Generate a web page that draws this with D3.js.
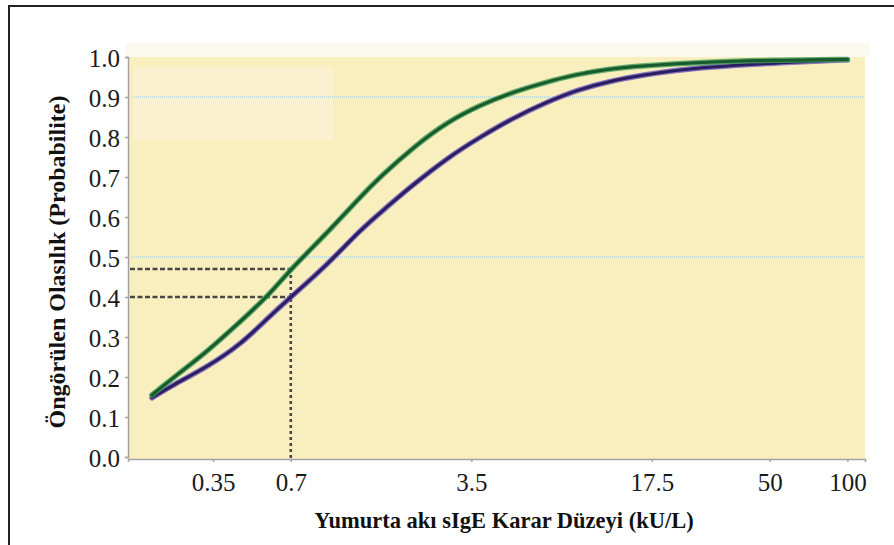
<!DOCTYPE html>
<html>
<head>
<meta charset="utf-8">
<script src="https://cdn.jsdelivr.net/npm/d3@7"></script>
<style>
  body { margin: 0; background: #fff; }
  svg { display: block; }
</style>
</head>
<body>
<div id="chart"></div>
<script>
// sIgE level (kU/L) and predicted probability
const greenX = [0.203, 0.245, 0.332, 0.445, 0.567, 0.7, 0.968, 1.3, 1.55, 2.09, 2.83, 3.79, 5.09, 6.9, 8.7, 11.8, 15.8, 28.8, 51.9, 100];
const greenY = [0.155, 0.198, 0.263, 0.338, 0.40, 0.47, 0.56, 0.65, 0.70, 0.775, 0.838, 0.88, 0.913, 0.938, 0.955, 0.97, 0.978, 0.988, 0.992, 0.994];
const purpleX = [0.203, 0.245, 0.332, 0.445, 0.572, 0.7, 0.968, 1.3, 1.65, 2.03, 2.83, 3.79, 5.09, 6.9, 9.0, 12.1, 16.2, 21.2, 28.8, 51.9, 100];
const purpleY = [0.148, 0.18, 0.225, 0.28, 0.348, 0.40, 0.48, 0.568, 0.625, 0.675, 0.748, 0.80, 0.848, 0.888, 0.918, 0.94, 0.955, 0.966, 0.975, 0.985, 0.993];

const xTicks = [0.35, 0.7, 3.5, 17.5, 50, 100];
const xTickLabels = ["0.35", "0.7", "3.5", "17.5", "50", "100"];
const yTicks = [0, 0.1, 0.2, 0.3, 0.4, 0.5, 0.6, 0.7, 0.8, 0.9, 1.0];
const gridY = [0.9, 0.5];
const cutX = 0.7;
const cutY = [0.47, 0.40];

const width = 894, height = 545;
const plotL = 128, plotR = 865, plotT = 57, plotB = 460;
const serif = "'Liberation Serif', 'Times New Roman', serif";

const svg = d3.select("#chart").append("svg")
    .attr("width", width)
    .attr("height", height);

const x = d3.scaleLog().domain([0.164, 117]).range([plotL, plotR]);
const y = d3.scaleLinear().domain([0, 1]).range([457, 57]);

// outer frame (top and left edges show)
svg.append("path")
    .attr("d", `M9,${height} L9,6 L${width},6`)
    .attr("fill", "none")
    .attr("stroke", "#222")
    .attr("stroke-width", 2);

// plot backgrounds
svg.append("rect")
    .attr("x", plotL - 3).attr("y", 43)
    .attr("width", plotR - plotL + 8).attr("height", 14)
    .attr("fill", "#fcf9ee");
svg.append("rect")
    .attr("x", plotL).attr("y", plotT)
    .attr("width", plotR - plotL).attr("height", plotB - plotT)
    .attr("fill", "#f9efbe");
svg.append("rect")
    .attr("x", 133).attr("y", 67)
    .attr("width", 200).attr("height", 73)
    .attr("fill", "#fbf0d0");

// dotted blue reference lines
svg.selectAll("line.grid")
    .data(gridY)
    .enter().append("line")
    .attr("class", "grid")
    .attr("x1", plotL + 4).attr("x2", plotR - 2)
    .attr("y1", d => y(d)).attr("y2", d => y(d))
    .attr("stroke", "#8fc6de")
    .attr("stroke-width", 1)
    .attr("stroke-dasharray", "1,1");

// axes
const yAxis = svg.append("g")
    .attr("transform", `translate(${plotL},0)`)
    .call(d3.axisLeft(y).tickValues(yTicks).tickSize(3).tickFormat(d3.format(".1f")));
const xAxis = svg.append("g")
    .attr("transform", `translate(0,${plotB - 1})`)
    .call(d3.axisBottom(x).tickValues(xTicks).tickSize(3).tickFormat((d, i) => xTickLabels[i]));

[yAxis, xAxis].forEach(g => {
    g.select(".domain").attr("stroke", "#a2a2a2").attr("stroke-width", 1.5);
    g.selectAll(".tick line").attr("stroke", "#a2a2a2").attr("stroke-width", 1.5);
    g.selectAll(".tick text")
        .attr("fill", "#1a1a1a")
        .style("font-family", serif)
        .style("font-size", "25px");
});
yAxis.selectAll(".tick text").attr("x", -8).attr("dy", "0.38em");
xAxis.selectAll(".tick text").attr("y", 14).attr("dy", "0.71em");

// dashed cut-off guides
const guide = svg.append("g")
    .attr("stroke", "#474745")
    .attr("stroke-width", 2.6)
    .attr("fill", "none");
guide.selectAll("line.h")
    .data(cutY)
    .enter().append("line")
    .attr("class", "h")
    .attr("x1", plotL + 2).attr("x2", x(cutX))
    .attr("y1", d => y(d)).attr("y2", d => y(d))
    .attr("stroke-dasharray", "5,2.5");
guide.append("line")
    .attr("x1", x(cutX)).attr("x2", x(cutX))
    .attr("y1", plotB - 2).attr("y2", y(cutY[0]))
    .attr("stroke-dasharray", "3,3");

// curves
const line = d3.line()
    .x(d => x(d[0]))
    .y(d => y(d[1]))
    .curve(d3.curveBasis);

const greenData = d3.zip(greenX, greenY);
const purpleData = d3.zip(purpleX, purpleY);

function drawCurve(data, glow, core) {
    svg.append("path")
        .datum(data)
        .attr("d", line)
        .attr("fill", "none")
        .attr("stroke", glow)
        .attr("stroke-width", 5.5)
        .attr("stroke-linecap", "round")
        .attr("opacity", 0.8);
    svg.append("path")
        .datum(data)
        .attr("d", line)
        .attr("fill", "none")
        .attr("stroke", core)
        .attr("stroke-width", 3)
        .attr("stroke-linecap", "round");
}
drawCurve(purpleData, "#6a55b8", "#2a1d62");
drawCurve(greenData, "#3f9a55", "#175a2c");

// axis titles
svg.append("text")
    .attr("transform", `translate(65,262) rotate(-90)`)
    .attr("text-anchor", "middle")
    .style("font-family", serif)
    .style("font-weight", "bold")
    .style("font-size", "24px")
    .attr("fill", "#111")
    .text("Öngörülen Olasılık (Probabilite)");

svg.append("text")
    .attr("x", 504)
    .attr("y", 528)
    .attr("text-anchor", "middle")
    .style("font-family", serif)
    .style("font-weight", "bold")
    .style("font-size", "22.5px")
    .attr("fill", "#111")
    .text("Yumurta akı sIgE Karar Düzeyi (kU/L)");
</script>
</body>
</html>
